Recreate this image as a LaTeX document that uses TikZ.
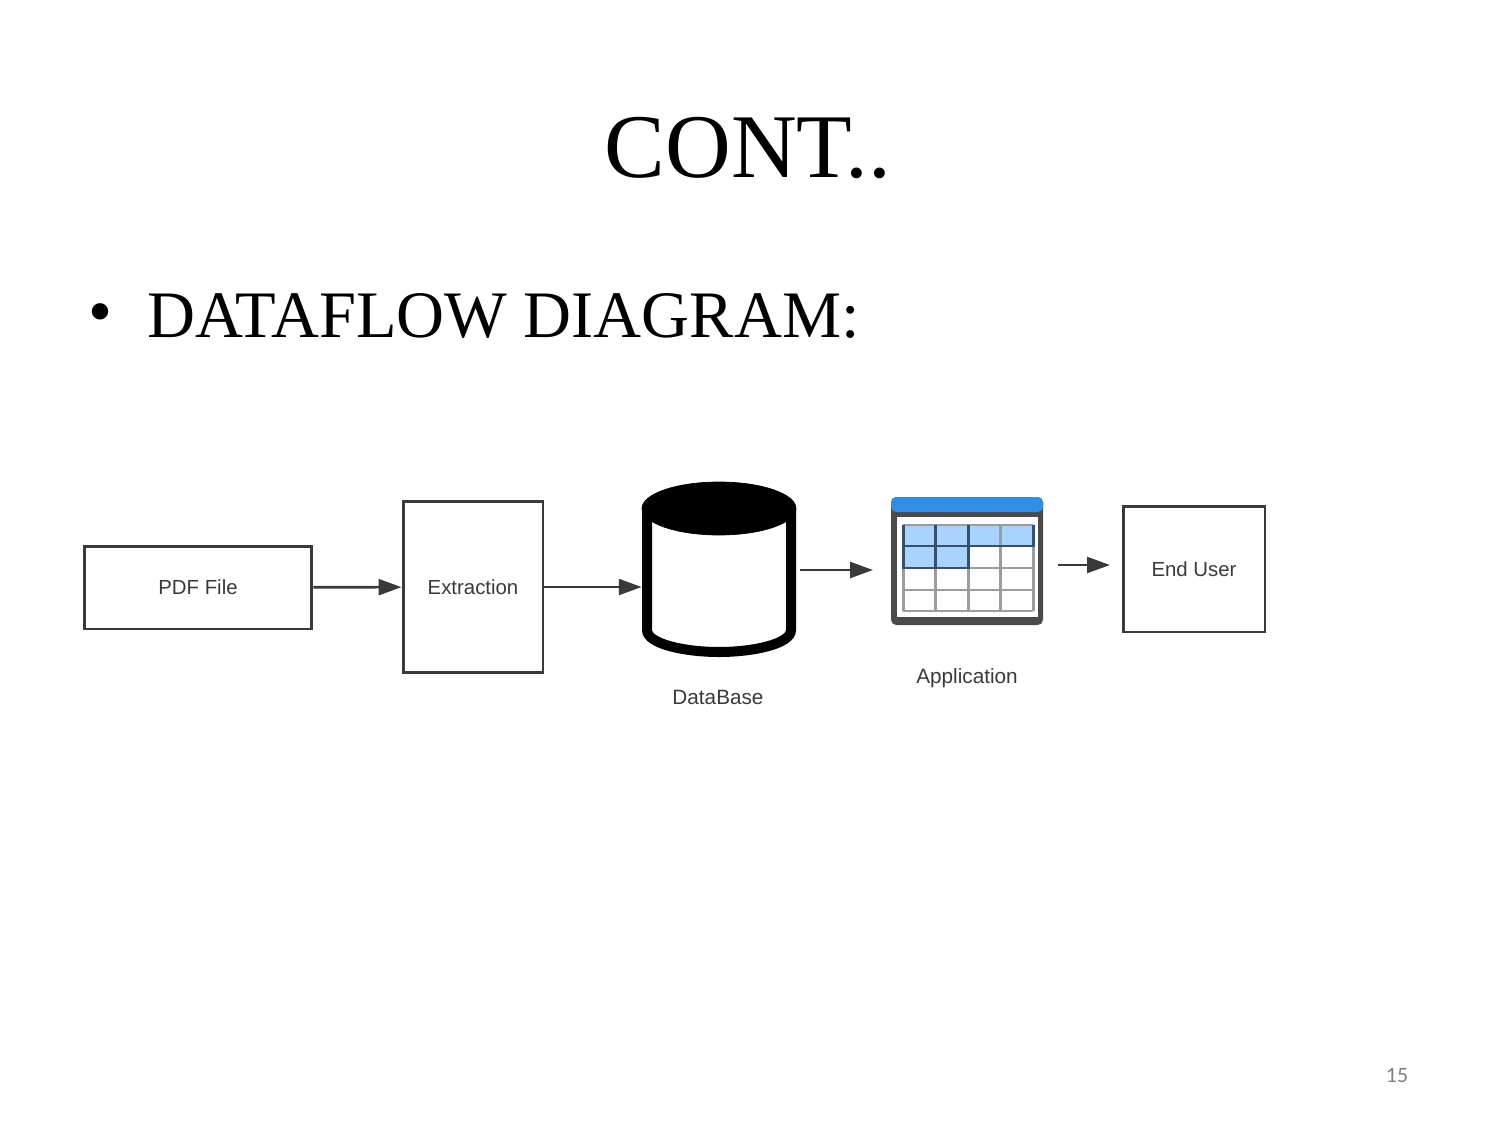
\documentclass[tikz,border=0pt]{standalone}
\usepackage{fontspec}
\setmainfont{Liberation Serif}
\newfontfamily\labelfont{Liberation Sans}
\newfontfamily\numfont{Carlito}
\usetikzlibrary{arrows.meta}
\definecolor{linegray}{HTML}{3A3A3A}
\definecolor{barblue}{HTML}{2F8FE6}
\definecolor{cellblue}{HTML}{A8D3FF}
\definecolor{celldark}{HTML}{34506C}
\definecolor{cellgray}{HTML}{9C9C9C}
\definecolor{framegray}{HTML}{4A4A4A}
\tikzset{
  flowbox/.style={draw=linegray, line width=1.7pt, inner sep=0pt, font=\labelfont\fontsize{11.6}{14}\selectfont, text=linegray},
  flowlabel/.style={font=\labelfont\fontsize{11.8}{14}\selectfont, text=linegray},
  flowarrow/.style={draw=linegray, line width=1.5pt, -{Triangle[length=13pt,width=9pt]}},
  iconspot/.style={inner sep=0pt}
}
\begin{document}
\begin{tikzpicture}[x=0.02cm,y=-0.02cm]
        \useasboundingbox (0,0) rectangle (1500,1125);
        \fill[white] (0,0) rectangle (1500,1125);

        % slide texts
        \node[anchor=base,inner sep=0pt,font=\fontsize{51.8}{54}\selectfont] (title) at (748,178) {CONT..};
        \node[anchor=base,inner sep=0pt,font=\fontsize{39}{44}\selectfont] (bullet) at (100,334) {\char"2022};
        \node[anchor=base west,inner sep=0pt,font=\fontsize{37.8}{44}\selectfont] (heading) at (147,337) {DATAFLOW DIAGRAM:};
        \node[font=\numfont\fontsize{12.5}{14}\selectfont, text=gray] (pagenum) at (1397,1075) {15};

        % boxes
        \node[flowbox, minimum width=4.56cm, minimum height=1.66cm] (pdffile) at (198,587.5) {PDF File};
        \node[flowbox, minimum width=2.8cm, minimum height=3.44cm] (extraction) at (473,587) {Extraction};
        \node[flowbox, minimum width=2.84cm, minimum height=2.52cm] (enduser) at (1194,569) {End User};

        % database
        \node[iconspot, minimum width=3.08cm, minimum height=3.5cm] (database) at (719,569.5) {};
        \draw[black, line width=5.7pt] (647,509) -- (647,630) .. controls (647,644) and (685,652) .. (719,652) .. controls (753,652) and (791,644) .. (791,630) -- (791,509);
        \filldraw[black] (719,508.5) ellipse (77 and 26.5);
        \node[flowlabel] (dblabel) at (718,697) {DataBase};

        % application
        \node[iconspot, minimum width=3.04cm, minimum height=2.56cm] (application) at (967,561) {};
        \fill[framegray, rounded corners=3pt] (891,497) rectangle (1043,625);
        \fill[barblue, rounded corners=3pt] (891,497) rectangle (1043,512);
        \fill[white] (897,517) rectangle (1038,617);
        \fill[cellblue] (903,525) rectangle (1033,546);
        \fill[cellblue] (903,546) rectangle (968,568);
        \foreach \x in {903,935.5,968,1000,1033}
            \draw[cellgray, line width=1.7pt] (\x,525) -- (\x,611);
        \foreach \y in {525,546,568,590,611}
            \draw[cellgray, line width=1.7pt] (903,\y) -- (1033,\y);
        \draw[celldark, line width=1.7pt] (903,525) -- (903,568) -- (968,568) -- (968,525);
        \draw[celldark, line width=1.7pt] (903,546) -- (1033,546) -- (1033,525);
        \draw[celldark, line width=1.7pt] (935.5,525) -- (935.5,568);
        \node[flowlabel] (applabel) at (967,678) {Application};

        % connectors
        \coordinate (dbout) at (800,570);
        \coordinate (appin) at (873,570);
        \coordinate (appout) at (1058,565);
        \coordinate (userin) at (1110,565);
        \draw[flowarrow] (pdffile) -- (extraction);
        \draw[flowarrow] (extraction.east) -- (extraction.east -| database.west);
        \draw[flowarrow] (dbout) -- (appin);
        \draw[flowarrow] (appout) -- (userin);
\end{tikzpicture}
\end{document}
